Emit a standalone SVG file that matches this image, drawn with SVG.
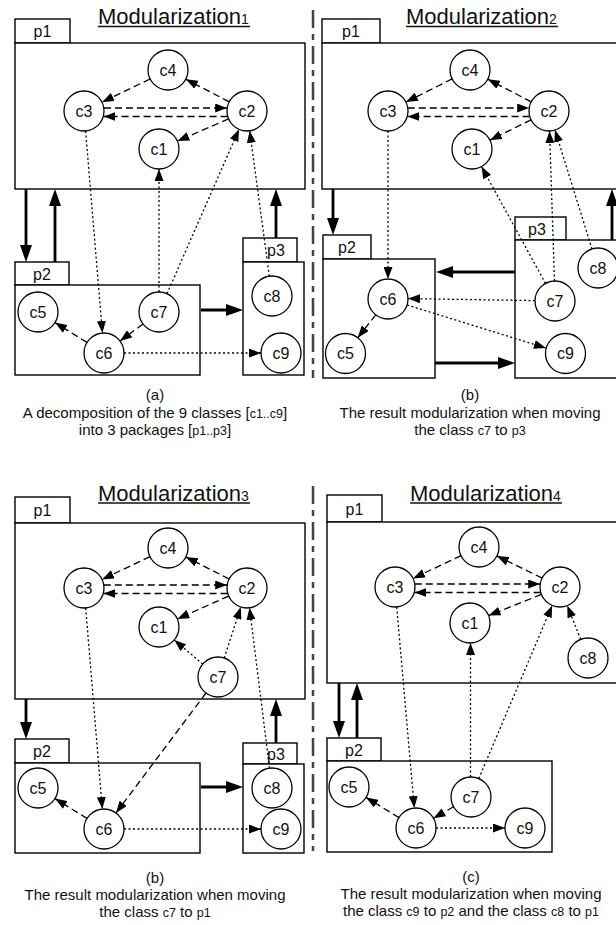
<svg xmlns="http://www.w3.org/2000/svg" width="616" height="925" viewBox="0 0 616 925">
<defs>
<style>
.bg{fill:#fff}
.box{fill:#fff;stroke:#000;stroke-width:1.4}
.nd{fill:#fff;stroke:#000;stroke-width:1.3}
.lbl{font-family:"Liberation Sans",Arial,Helvetica,sans-serif;font-size:16px;text-anchor:middle;fill:#111}
.plbl{font-family:"Liberation Sans",Arial,Helvetica,sans-serif;font-size:16px;text-anchor:middle;fill:#111}
.title{font-family:"Liberation Sans",Arial,Helvetica,sans-serif;font-size:22px;fill:#111}
.cap{font-family:"Liberation Sans",Arial,Helvetica,sans-serif;font-size:15px;text-anchor:middle;fill:#111}
.sm{font-size:12.5px}
.ul{stroke:#111;stroke-width:1.3}
.dash{stroke:#000;stroke-width:1.3;stroke-dasharray:7 4;fill:none;marker-end:url(#ah)}
.dot{stroke:#000;stroke-width:1.3;stroke-dasharray:2 2.5;fill:none;marker-end:url(#ah)}
.thick{stroke:#000;stroke-width:2.8;fill:none;marker-end:url(#ahb)}
.div{stroke:#444;stroke-width:2.5;stroke-dasharray:18 6 6 6;fill:none}
</style>
<marker id="ah" viewBox="0 0 12 9" refX="12" refY="4.5" markerWidth="12" markerHeight="9" markerUnits="userSpaceOnUse" orient="auto"><path d="M0,0 L12,4.5 L0,9 z" fill="#000"/></marker>
<marker id="ahb" viewBox="0 0 17 12" refX="11" refY="6" markerWidth="17" markerHeight="12" markerUnits="userSpaceOnUse" orient="auto"><path d="M0,0 L17,6 L0,12 z" fill="#000"/></marker>
</defs>
<rect class="bg" x="0" y="0" width="616" height="925"/>

<!-- dividers -->
<line class="div" x1="313" y1="10" x2="313" y2="378"/>
<line class="div" x1="313" y1="486" x2="313" y2="851"/>

<!-- titles -->
<g id="titles">
<text class="title" x="98" y="24">Modularization<tspan font-size="14">1</tspan></text>
<line class="ul" x1="98" y1="26.5" x2="250" y2="26.5"/>
<text class="title" x="406" y="24">Modularization<tspan font-size="14">2</tspan></text>
<line class="ul" x1="406" y1="26.5" x2="558" y2="26.5"/>
<text class="title" x="98" y="500.5">Modularization<tspan font-size="14">3</tspan></text>
<line class="ul" x1="98" y1="503" x2="250" y2="503"/>
<text class="title" x="410" y="500.5">Modularization<tspan font-size="14">4</tspan></text>
<line class="ul" x1="410" y1="503" x2="562" y2="503"/>
</g>

<!-- ===== Q1 packages ===== -->
<g id="q1-p1"><rect class="box" x="15" y="19" width="55" height="24"/><rect class="box" x="15" y="43" width="290" height="146"/><text class="plbl" x="42.5" y="37">p1</text></g>
<g id="q1-p2"><rect class="box" x="15" y="262" width="54" height="23"/><rect class="box" x="15" y="285" width="185" height="90"/><text class="plbl" x="42" y="279.5">p2</text></g>
<g id="q1-p3"><rect class="box" x="243" y="238" width="54" height="24"/><rect class="box" x="243" y="262" width="61" height="113"/><text class="plbl" x="276" y="256">p3</text></g>

<!-- ===== Q2 packages ===== -->
<g id="q2-p1"><rect class="box" x="322" y="19" width="58" height="24"/><rect class="box" x="322" y="43" width="310" height="146"/><text class="plbl" x="351" y="37">p1</text></g>
<g id="q2-p2"><rect class="box" x="323" y="235" width="48" height="24"/><rect class="box" x="323" y="259" width="112" height="119"/><text class="plbl" x="347" y="253">p2</text></g>
<g id="q2-p3"><rect class="box" x="515" y="217" width="51" height="23"/><rect class="box" x="515" y="240" width="117" height="138"/><text class="plbl" x="537" y="234.5">p3</text></g>

<!-- ===== Q3 packages ===== -->
<g id="q3-p1"><rect class="box" x="15" y="497" width="55" height="26"/><rect class="box" x="15" y="523" width="290" height="176"/><text class="plbl" x="42.5" y="516">p1</text></g>
<g id="q3-p2"><rect class="box" x="15" y="739" width="54" height="24"/><rect class="box" x="15" y="763" width="185" height="90"/><text class="plbl" x="42" y="757">p2</text></g>
<g id="q3-p3"><rect class="box" x="243" y="743" width="54" height="21"/><rect class="box" x="243" y="764" width="61" height="89"/><text class="plbl" x="276" y="759.5">p3</text></g>

<!-- ===== Q4 packages ===== -->
<g id="q4-p1"><rect class="box" x="327" y="495" width="55" height="27"/><rect class="box" x="327" y="522" width="305" height="161"/><text class="plbl" x="354.5" y="514.5">p1</text></g>
<g id="q4-p2"><rect class="box" x="327" y="738" width="54" height="23"/><rect class="box" x="327" y="761" width="225" height="91"/><text class="plbl" x="354" y="755.5">p2</text></g>

<!-- ===== connectors ===== -->
<g id="connectors">
<!-- Q1 -->
<line class="thick" x1="26" y1="189" x2="26" y2="256"/>
<line class="thick" x1="55" y1="262" x2="55" y2="195"/>
<line class="thick" x1="276" y1="238" x2="276" y2="195"/>
<line class="thick" x1="201" y1="310" x2="237" y2="310"/>
<line class="dash" x1="150" y1="79" x2="102" y2="102.2"/>
<line class="dash" x1="229.2" y1="101.8" x2="185.8" y2="79.2"/>
<line class="dash" x1="104" y1="108" x2="227.2" y2="108"/>
<line class="dash" x1="227.6" y1="116.5" x2="103.4" y2="116.5"/>
<line class="dash" x1="228.6" y1="118.9" x2="177.4" y2="141.1"/>
<line class="dot" x1="85.6" y1="131" x2="102.4" y2="333"/>
<line class="dot" x1="159" y1="292" x2="159" y2="169"/>
<line class="dot" x1="167" y1="293.7" x2="239" y2="129.3"/>
<line class="dot" x1="269.3" y1="276.2" x2="249.7" y2="130.8"/>
<line class="dash" x1="143" y1="324" x2="120" y2="341"/>
<line class="dash" x1="87" y1="342.4" x2="55" y2="322.6"/>
<line class="dot" x1="124" y1="353" x2="261" y2="353"/>
<!-- Q2 -->
<line class="thick" x1="333" y1="189" x2="333" y2="229"/>
<line class="thick" x1="612" y1="240" x2="612" y2="195"/>
<line class="thick" x1="515" y1="272" x2="442" y2="272"/>
<line class="thick" x1="435" y1="363" x2="509" y2="363"/>
<line class="dash" x1="452.1" y1="78.9" x2="405.9" y2="102.1"/>
<line class="dash" x1="531.2" y1="101.8" x2="487.8" y2="79.2"/>
<line class="dash" x1="407.8" y1="108" x2="529.2" y2="108"/>
<line class="dash" x1="529.6" y1="116.5" x2="407.4" y2="116.5"/>
<line class="dash" x1="531.1" y1="119.8" x2="489.9" y2="140.2"/>
<line class="dot" x1="388" y1="131" x2="388" y2="279"/>
<line class="dot" x1="535" y1="300.6" x2="408" y2="298.6"/>
<line class="dot" x1="407.1" y1="305" x2="545.9" y2="348"/>
<line class="dash" x1="375.7" y1="314.8" x2="357.8" y2="337.7"/>
<line class="dot" x1="545.5" y1="283.4" x2="481.5" y2="166.6"/>
<line class="dot" x1="554.5" y1="281" x2="549.5" y2="131"/>
<line class="dot" x1="592" y1="249" x2="555" y2="130"/>
<!-- Q3 -->
<line class="thick" x1="26" y1="699" x2="26" y2="733"/>
<line class="thick" x1="276" y1="743" x2="276" y2="705"/>
<line class="thick" x1="201" y1="787" x2="237" y2="787"/>
<line class="dash" x1="150" y1="556.6" x2="102" y2="579.4"/>
<line class="dash" x1="229.2" y1="579" x2="185.8" y2="557"/>
<line class="dash" x1="103.8" y1="585" x2="227.2" y2="585"/>
<line class="dash" x1="227.6" y1="593.5" x2="103.4" y2="593.5"/>
<line class="dash" x1="228.7" y1="596.1" x2="177.3" y2="618.9"/>
<line class="dot" x1="85.7" y1="608" x2="102.3" y2="809"/>
<line class="dot" x1="202.7" y1="664.1" x2="174.3" y2="639.9"/>
<line class="dot" x1="224.2" y1="658" x2="240.8" y2="607"/>
<line class="dot" x1="269.5" y1="768.2" x2="249.5" y2="607.8"/>
<line class="dash" x1="206" y1="693" x2="116" y2="813"/>
<line class="dash" x1="87" y1="818.4" x2="55" y2="798.6"/>
<line class="dot" x1="124" y1="829" x2="261" y2="829"/>
<!-- Q4 -->
<line class="thick" x1="339" y1="683" x2="339" y2="732"/>
<line class="thick" x1="357" y1="738" x2="357" y2="689"/>
<line class="dash" x1="461" y1="555.6" x2="413" y2="578.4"/>
<line class="dash" x1="542.1" y1="578.1" x2="496.9" y2="555.9"/>
<line class="dash" x1="414.8" y1="584" x2="540.2" y2="584"/>
<line class="dash" x1="540.6" y1="592.5" x2="414.4" y2="592.5"/>
<line class="dash" x1="541.4" y1="594.4" x2="488.6" y2="615.6"/>
<line class="dot" x1="580.7" y1="639.4" x2="567.3" y2="605.6"/>
<line class="dot" x1="396.7" y1="607" x2="414.3" y2="808"/>
<line class="dot" x1="470.5" y1="777" x2="470.5" y2="643"/>
<line class="dot" x1="478.8" y1="778.6" x2="552.2" y2="605.4"/>
<line class="dash" x1="453.6" y1="806.8" x2="433.4" y2="818.2"/>
<line class="dash" x1="399" y1="817.6" x2="366" y2="797.4"/>
<line class="dot" x1="436" y1="828" x2="505" y2="828"/>
</g>

<!-- ===== Q1 nodes ===== -->
<g id="q1-c4"><circle class="nd" cx="168" cy="70" r="20"/><text class="lbl" x="168" y="75.5">c4</text></g>
<g id="q1-c3"><circle class="nd" cx="84" cy="111" r="20"/><text class="lbl" x="84" y="116.5">c3</text></g>
<g id="q1-c2"><circle class="nd" cx="247" cy="111" r="20"/><text class="lbl" x="247" y="116.5">c2</text></g>
<g id="q1-c1"><circle class="nd" cx="159" cy="149" r="20"/><text class="lbl" x="159" y="154.5">c1</text></g>
<g id="q1-c5"><circle class="nd" cx="38" cy="312" r="20"/><text class="lbl" x="38" y="317.5">c5</text></g>
<g id="q1-c7"><circle class="nd" cx="159" cy="312" r="20"/><text class="lbl" x="159" y="317.5">c7</text></g>
<g id="q1-c6"><circle class="nd" cx="104" cy="353" r="20"/><text class="lbl" x="104" y="358.5">c6</text></g>
<g id="q1-c8"><circle class="nd" cx="272" cy="296" r="20"/><text class="lbl" x="272" y="301.5">c8</text></g>
<g id="q1-c9"><circle class="nd" cx="281" cy="353" r="20"/><text class="lbl" x="281" y="358.5">c9</text></g>

<!-- ===== Q2 nodes ===== -->
<g id="q2-c4"><circle class="nd" cx="470" cy="70" r="20"/><text class="lbl" x="470" y="75.5">c4</text></g>
<g id="q2-c3"><circle class="nd" cx="388" cy="111" r="20"/><text class="lbl" x="388" y="116.5">c3</text></g>
<g id="q2-c2"><circle class="nd" cx="549" cy="111" r="20"/><text class="lbl" x="549" y="116.5">c2</text></g>
<g id="q2-c1"><circle class="nd" cx="472" cy="149" r="20"/><text class="lbl" x="472" y="154.5">c1</text></g>
<g id="q2-c6"><circle class="nd" cx="388" cy="299" r="20"/><text class="lbl" x="388" y="304.5">c6</text></g>
<g id="q2-c5"><circle class="nd" cx="345.5" cy="353.5" r="20"/><text class="lbl" x="345.5" y="359">c5</text></g>
<g id="q2-c7"><circle class="nd" cx="555" cy="301" r="20"/><text class="lbl" x="555" y="306.5">c7</text></g>
<g id="q2-c8"><circle class="nd" cx="598" cy="268" r="20"/><text class="lbl" x="598" y="273.5">c8</text></g>
<g id="q2-c9"><circle class="nd" cx="565.5" cy="353.5" r="20"/><text class="lbl" x="565.5" y="359">c9</text></g>

<!-- ===== Q3 nodes ===== -->
<g id="q3-c4"><circle class="nd" cx="168" cy="548" r="20"/><text class="lbl" x="168" y="553.5">c4</text></g>
<g id="q3-c3"><circle class="nd" cx="84" cy="588" r="20"/><text class="lbl" x="84" y="593.5">c3</text></g>
<g id="q3-c2"><circle class="nd" cx="247" cy="588" r="20"/><text class="lbl" x="247" y="593.5">c2</text></g>
<g id="q3-c1"><circle class="nd" cx="159" cy="627" r="20"/><text class="lbl" x="159" y="632.5">c1</text></g>
<g id="q3-c7"><circle class="nd" cx="218" cy="677" r="20"/><text class="lbl" x="218" y="682.5">c7</text></g>
<g id="q3-c5"><circle class="nd" cx="38" cy="788" r="20"/><text class="lbl" x="38" y="793.5">c5</text></g>
<g id="q3-c6"><circle class="nd" cx="104" cy="829" r="20"/><text class="lbl" x="104" y="834.5">c6</text></g>
<g id="q3-c8"><circle class="nd" cx="272" cy="788" r="20"/><text class="lbl" x="272" y="793.5">c8</text></g>
<g id="q3-c9"><circle class="nd" cx="281" cy="829" r="20"/><text class="lbl" x="281" y="834.5">c9</text></g>

<!-- ===== Q4 nodes ===== -->
<g id="q4-c4"><circle class="nd" cx="479" cy="547" r="20"/><text class="lbl" x="479" y="552.5">c4</text></g>
<g id="q4-c3"><circle class="nd" cx="395" cy="587" r="20"/><text class="lbl" x="395" y="592.5">c3</text></g>
<g id="q4-c2"><circle class="nd" cx="560" cy="587" r="20"/><text class="lbl" x="560" y="592.5">c2</text></g>
<g id="q4-c1"><circle class="nd" cx="470" cy="623" r="20"/><text class="lbl" x="470" y="628.5">c1</text></g>
<g id="q4-c8"><circle class="nd" cx="588" cy="658" r="20"/><text class="lbl" x="588" y="663.5">c8</text></g>
<g id="q4-c5"><circle class="nd" cx="349" cy="787" r="20"/><text class="lbl" x="349" y="792.5">c5</text></g>
<g id="q4-c7"><circle class="nd" cx="471" cy="797" r="20"/><text class="lbl" x="471" y="802.5">c7</text></g>
<g id="q4-c6"><circle class="nd" cx="416" cy="828" r="20"/><text class="lbl" x="416" y="833.5">c6</text></g>
<g id="q4-c9"><circle class="nd" cx="525" cy="828" r="20"/><text class="lbl" x="525" y="833.5">c9</text></g>

<!-- ===== captions ===== -->
<g id="captions">
<text class="cap" x="155" y="400">(a)</text>
<text class="cap" x="155" y="418">A decomposition of the 9 classes [<tspan class="sm">c1..c9</tspan>]</text>
<text class="cap" x="155" y="435">into 3 packages [<tspan class="sm">p1..p3</tspan>]</text>
<text class="cap" x="470" y="400">(b)</text>
<text class="cap" x="470" y="418">The result modularization when moving</text>
<text class="cap" x="470" y="435">the class <tspan class="sm">c7</tspan> to <tspan class="sm">p3</tspan></text>
<text class="cap" x="155" y="883">(b)</text>
<text class="cap" x="155" y="900">The result modularization when moving</text>
<text class="cap" x="155" y="917">the class <tspan class="sm">c7</tspan> to <tspan class="sm">p1</tspan></text>
<text class="cap" x="471" y="882">(c)</text>
<text class="cap" x="471" y="899">The result modularization when moving</text>
<text class="cap" x="471" y="916">the class <tspan class="sm">c9</tspan> to <tspan class="sm">p2</tspan> and the class <tspan class="sm">c8</tspan> to <tspan class="sm">p1</tspan></text>
</g>
</svg>
